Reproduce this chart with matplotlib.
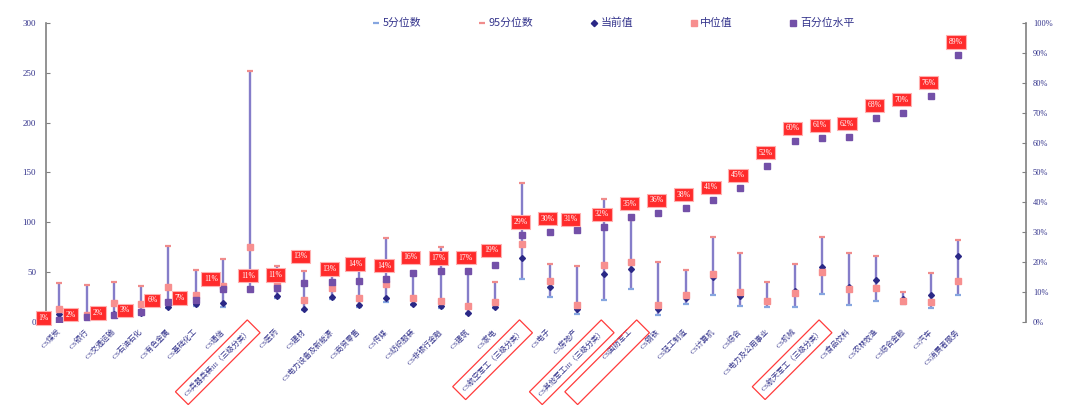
import matplotlib.pyplot as plt
from matplotlib.lines import Line2D

# 行业估值分位数据
categories = ['CS煤炭', 'CS银行', 'CS交通运输', 'CS石油石化', 'CS有色金属', 'CS基础化工',
              'CS通信', 'CS兵器兵装III（三级分类）', 'CS医药', 'CS建材', 'CS电力设备及新能源',
              'CS商贸零售', 'CS传媒', 'CS纺织服装', 'CS非银行金融', 'CS建筑', 'CS家电',
              'CS航空军工（三级分类）', 'CS电子', 'CS房地产', 'CS其他军工III（三级分类）',
              'CS国防军工', 'CS钢铁', 'CS轻工制造', 'CS计算机', 'CS综合', 'CS电力及公用事业',
              'CS机械', 'CS航天军工（三级分类）', 'CS食品饮料', 'CS农林牧渔', 'CS综合金融',
              'CS汽车', 'CS消费者服务']
p95 = [38.7, 37.0, 40.4, 35.9, 76.1, 51.8, 63.5, 252.0, 55.8, 51.3, 50.0, 52.0, 84.5, 48.7,
       75.1, 51.3, 40.4, 139.8, 58.5, 55.5, 123.7, 102.2, 59.7, 52.0, 85.5, 69.4, 40.0, 57.8,
       85.5, 68.8, 66.1, 30.2, 49.3, 82.1]
p5 = [3.0, 4.0, 5.0, 8.5, 14.0, 16.0, 15.0, 32.0, 24.0, 11.5, 23.0, 15.0, 20.0, 17.0, 13.3,
      8.0, 14.0, 43.4, 25.1, 7.5, 22.0, 32.6, 6.7, 17.6, 27.2, 16.0, 14.3, 15.1, 27.5, 16.8,
      20.8, 17.8, 13.8, 26.8]
current = [8.0, 5.0, 8.2, 9.2, 15.1, 17.5, 18.5, 33.0, 25.8, 12.5, 25.1, 16.5, 24.1, 17.8,
           15.8, 8.4, 15.1, 64.2, 34.6, 12.5, 48.0, 52.5, 12.9, 24.1, 44.6, 26.1, 20.5, 31.0,
           55.3, 35.2, 41.9, 23.1, 27.2, 66.4]
median = [12.8, 7.0, 18.5, 17.3, 34.4, 27.2, 35.9, 75.4, 36.4, 21.8, 33.9, 24.3, 37.9, 24.1,
          20.8, 16.1, 19.5, 77.9, 41.4, 16.8, 56.8, 59.7, 16.6, 27.2, 47.8, 29.4, 20.5, 28.7,
          50.0, 32.6, 33.9, 20.8, 19.5, 41.2]
pct_level = [0.6, 1.7, 2.2, 3.1, 6.5, 7.3, 10.9, 11.1, 11.3, 12.9, 13.3, 13.6, 14.4, 16.2,
             17.0, 17.1, 18.9, 29.1, 30.2, 30.6, 31.6, 35.2, 36.3, 38.2, 40.7, 44.7, 52.3,
             60.4, 61.4, 62.0, 68.2, 70.0, 75.7, 89.4]
boxed = ['CS兵器兵装III（三级分类）', 'CS航空军工（三级分类）', 'CS其他军工III（三级分类）',
         'CS航天军工（三级分类）']

TXT = '#34348c'
C_BAR = '#857dc9'
C_P5 = '#86a6e0'
C_P95 = '#f08c8c'
C_CUR = '#2a2886'
C_MED = '#f78f8f'
C_PCT = '#7350a8'
SERIF = ['Liberation Serif', 'Noto Sans CJK SC']
BOX = dict(boxstyle='square,pad=0.7', fc='none', ec='#ff3b3b', lw=0.9)

fig = plt.figure(figsize=(10.69, 4.11), dpi=100)
ax = fig.add_axes([0.0428, 0.2173, 0.917, 0.726])
x = list(range(len(categories)))

ax.vlines(x, p5, p95, color=C_BAR, lw=1.7, zorder=2)
ax.plot(x, p5, ls='none', marker='_', ms=4, mew=1.6, color=C_P5, zorder=3)
ax.plot(x, p95, ls='none', marker='_', ms=4, mew=1.6, color=C_P95, zorder=3)
ax.plot(x, current, ls='none', marker='D', ms=3.0, color=C_CUR, zorder=4)
ax.plot(x, median, ls='none', marker='s', ms=5, color=C_MED, zorder=5)

ax.set_xlim(-0.5, 35.5)
ax.set_ylim(0, 300)
ax.set_yticks(range(0, 301, 50))
ax.set_xticks(x)
ax.set_xticklabels(categories, rotation=45, ha='right', va='center',
                   rotation_mode='anchor', fontsize=5.4, color=TXT, family=SERIF)
ax.tick_params(axis='x', length=0, pad=6)
ax.tick_params(axis='y', direction='in', length=3, colors='#808080', labelcolor=TXT,
               labelsize=6.5, pad=7)
for lab in ax.get_yticklabels():
    lab.set_family(SERIF)
for s in ['top', 'bottom', 'right']:
    ax.spines[s].set_visible(False)
ax.spines['left'].set_color('#808080')
ax.spines['left'].set_linewidth(1.2)

# 重点关注行业加红框
for lab in ax.get_xticklabels():
    if lab.get_text() in boxed:
        lab.set_bbox(BOX)

# 国防军工的框与三级分类的框等长，用一段不可见文字撑开
i_gf = categories.index('CS国防军工')
ax.annotate('CS其他军工III（三级分类）', (i_gf + 0.3, 0),
            xycoords=('data', 'axes fraction'), xytext=(0, -6), textcoords='offset points',
            rotation=45, ha='right', va='center', rotation_mode='anchor',
            fontsize=5.4, family=SERIF, color='none', bbox=BOX, annotation_clip=False)

# 右轴：百分位水平
ax2 = ax.twinx()
ax2.set_ylim(0, 100)
ax2.set_yticks(range(0, 101, 10))
ax2.set_yticklabels([f'{v}%' for v in range(0, 101, 10)], family=SERIF)
ax2.tick_params(axis='y', direction='in', length=3, colors='#808080', labelcolor=TXT,
                labelsize=6, pad=5)
for s in ['top', 'bottom', 'left']:
    ax2.spines[s].set_visible(False)
ax2.spines['right'].set_color('#808080')
ax2.spines['right'].set_linewidth(1.2)
ax2.plot(x, pct_level, ls='none', marker='s', ms=4.4, color=C_PCT, zorder=3)

label_nudge = {6: (-12, 10), 9: (-4, 27), 11: (-4, 17), 13: (-3, 16), 16: (-4, 15),
               19: (-6, 11)}
for i, v in enumerate(pct_level):
    if i < 6:
        off = (-16, 2)
    else:
        off = label_nudge.get(i, (-2, 13))
    ax2.annotate(f'{v:.0f}%', (i, v), xytext=off, textcoords='offset pixels',
                 ha='center', va='center', fontsize=5.5, color='white', family=SERIF,
                 bbox=dict(boxstyle='square,pad=0.35', fc='#ff2b2b', ec='#ffb0b0', lw=0.8),
                 zorder=6)

handles = [
    Line2D([], [], ls='none', marker='_', ms=5, mew=1.6, color=C_P5),
    Line2D([], [], ls='none', marker='_', ms=5, mew=1.6, color=C_P95),
    Line2D([], [], ls='none', marker='D', ms=3.2, color=C_CUR),
    Line2D([], [], ls='none', marker='s', ms=4.5, color=C_MED),
    Line2D([], [], ls='none', marker='s', ms=4.5, color=C_PCT),
]
names = ['5分位数', '95分位数', '当前值', '中位值', '百分位水平']
leg = fig.legend(handles, names, loc='center', bbox_to_anchor=(0.574, 0.944), ncol=5,
                 frameon=False, handlelength=0.6, handletextpad=0.3, columnspacing=5.3,
                 prop={'family': ['Noto Sans CJK SC'], 'size': 7.8})
for t in leg.get_texts():
    t.set_color(TXT)

fig.savefig('out.png', dpi=100, facecolor='white')
